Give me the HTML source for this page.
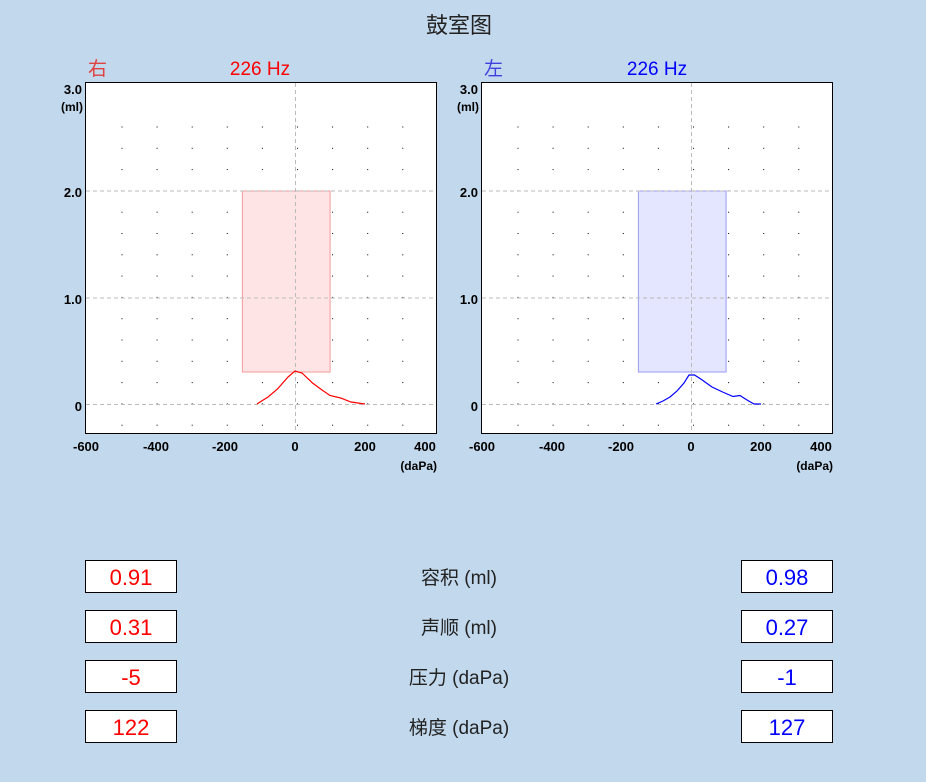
<!DOCTYPE html>
<html><head><meta charset="utf-8"><style>
html,body{margin:0;padding:0;background:#C2D8EC;}
svg{display:block}
text{font-family:"Liberation Sans","Noto Sans CJK SC",sans-serif;}
</style></head><body>
<svg width="926" height="782" viewBox="0 0 926 782" xmlns="http://www.w3.org/2000/svg">
<defs>
<pattern id="dots" patternUnits="userSpaceOnUse" x="121.5" y="126.5" width="35.1" height="21.3">
<rect x="0" y="0" width="1" height="1" fill="#000"/>
</pattern>
<pattern id="dots2" patternUnits="userSpaceOnUse" x="517.5" y="126.5" width="35.1" height="21.3">
<rect x="0" y="0" width="1" height="1" fill="#000"/>
</pattern>
</defs>
<rect width="926" height="782" fill="#C2D8EC"/>
<text x="459" y="33" font-size="22" text-anchor="middle" fill="#222">鼓室图</text>

<text x="88" y="75" font-size="19" fill="#e04040">右</text>
<text x="260" y="75" font-size="19" text-anchor="middle" fill="#ff0000">226 Hz</text>
<rect x="85.5" y="82.5" width="351" height="351" fill="#fff" stroke="#000"/>
<rect x="120" y="125" width="300" height="303" fill="url(#dots)"/>
<rect x="242.4" y="191" width="87.7" height="181" fill="#ffe4e6" stroke="#f59a9a"/>
<g stroke="#bbb" stroke-dasharray="4,3" fill="none">
<line x1="86" y1="191" x2="436" y2="191"/><line x1="86" y1="298" x2="436" y2="298"/><line x1="86" y1="404.5" x2="436" y2="404.5"/>
<line x1="295.5" y1="83" x2="295.5" y2="433"/>
</g>
<polyline fill="none" stroke="#ff0000" stroke-width="1.2" points="257,404 260,402 268,397 277.5,389 288,377 295,371 302,373 312.5,383 322,390 330,395.5 340.6,398 351,402 365,404"/>
<g text-anchor="end">
<text x="82" y="94" style="font-size:13px;font-weight:bold">3.0</text>
<text x="83" y="111" style="font-size:12px;font-weight:bold">(ml)</text>
<text x="82" y="197" style="font-size:13px;font-weight:bold">2.0</text>
<text x="82" y="304" style="font-size:13px;font-weight:bold">1.0</text>
<text x="82" y="411" style="font-size:13px;font-weight:bold">0</text>
</g>
<g text-anchor="middle" style="font-size:13px;font-weight:bold">
<text x="86" y="451">-600</text><text x="156" y="451">-400</text><text x="225" y="451">-200</text><text x="295" y="451">0</text><text x="365" y="451">200</text><text x="425" y="451">400</text>
</g>
<text x="437" y="470" text-anchor="end" style="font-size:12px;font-weight:bold">(daPa)</text>

<text x="484" y="75" font-size="19" fill="#4040e0">左</text>
<text x="657" y="75" font-size="19" text-anchor="middle" fill="#0000ff">226 Hz</text>
<rect x="481.5" y="82.5" width="351" height="351" fill="#fff" stroke="#000"/>
<rect x="516" y="125" width="300" height="303" fill="url(#dots2)"/>
<rect x="638.4" y="191" width="87.7" height="181" fill="#e4e6ff" stroke="#9a9af5"/>
<g stroke="#bbb" stroke-dasharray="4,3" fill="none">
<line x1="482" y1="191" x2="832" y2="191"/><line x1="482" y1="298" x2="832" y2="298"/><line x1="482" y1="404.5" x2="832" y2="404.5"/>
<line x1="691.5" y1="83" x2="691.5" y2="433"/>
</g>
<polyline fill="none" stroke="#0000ff" stroke-width="1.2" points="656,404 663,401 670,397 677,391 684,383 689,375 694.5,375 701.5,379.5 712,387 722.6,392 733,396.5 740,395.5 747,400 754,404 761,404"/>
<g text-anchor="end">
<text x="478" y="94" style="font-size:13px;font-weight:bold">3.0</text>
<text x="479" y="111" style="font-size:12px;font-weight:bold">(ml)</text>
<text x="478" y="197" style="font-size:13px;font-weight:bold">2.0</text>
<text x="478" y="304" style="font-size:13px;font-weight:bold">1.0</text>
<text x="478" y="411" style="font-size:13px;font-weight:bold">0</text>
</g>
<g text-anchor="middle" style="font-size:13px;font-weight:bold">
<text x="482" y="451">-600</text><text x="552" y="451">-400</text><text x="621" y="451">-200</text><text x="691" y="451">0</text><text x="761" y="451">200</text><text x="821" y="451">400</text>
</g>
<text x="833" y="470" text-anchor="end" style="font-size:12px;font-weight:bold">(daPa)</text>

<g fill="#fff" stroke="#000">
<rect x="85.5" y="560.5" width="91" height="32"/><rect x="85.5" y="610.5" width="91" height="32"/>
<rect x="85.5" y="660.5" width="91" height="32"/><rect x="85.5" y="710.5" width="91" height="32"/>
<rect x="741.5" y="560.5" width="91" height="32"/><rect x="741.5" y="610.5" width="91" height="32"/>
<rect x="741.5" y="660.5" width="91" height="32"/><rect x="741.5" y="710.5" width="91" height="32"/>
</g>
<g font-size="22" text-anchor="middle" fill="#ff0000">
<text x="131" y="585">0.91</text><text x="131" y="635">0.31</text><text x="131" y="685">-5</text><text x="131" y="735">122</text>
</g>
<g font-size="22" text-anchor="middle" fill="#0000ff">
<text x="787" y="585">0.98</text><text x="787" y="635">0.27</text><text x="787" y="685">-1</text><text x="787" y="735">127</text>
</g>
<g font-size="19" text-anchor="middle" fill="#222">
<text x="459" y="584">容积 (ml)</text><text x="459" y="634">声顺 (ml)</text><text x="459" y="684">压力 (daPa)</text><text x="459" y="734">梯度 (daPa)</text>
</g>
</svg>
</body></html>
